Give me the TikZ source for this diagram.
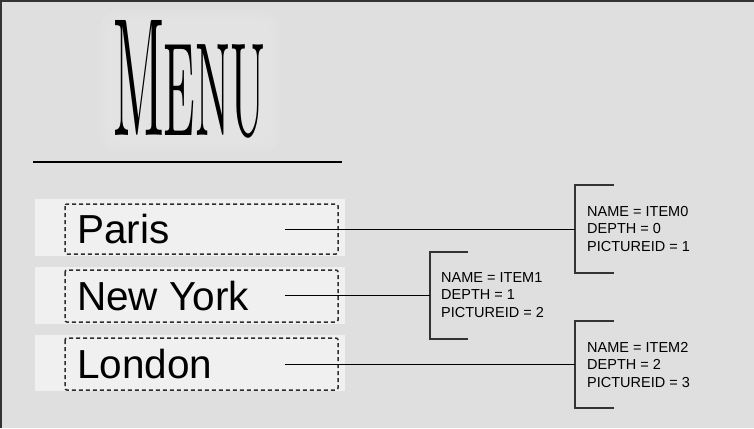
\documentclass[tikz,border=0pt]{standalone}
\usepackage{fontspec}
\setmainfont{Liberation Sans}
\usepackage{graphicx}
\usetikzlibrary{positioning}
\definecolor{panelgray}{HTML}{DFDFDF}
\definecolor{glowgray}{HTML}{E6E6E6}
\definecolor{bandgray}{HTML}{F0F0F0}
\definecolor{inkgray}{HTML}{333333}
\tikzset{
  band/.style={fill=bandgray, draw=none},
  dashbox/.style={draw=inkgray!90!black, line width=1.5pt, dash pattern=on 4pt off 3pt, rounded corners=2pt},
  cityname/.style={font=\fontsize{40.5}{42}\selectfont, anchor=base west, inner sep=0pt},
  props/.style={font=\fontsize{14.5}{17.5}\selectfont, align=left, anchor=base west, inner sep=0pt},
  bracketline/.style={draw=inkgray, line width=1.3pt},
  link/.style={draw=black, line width=1pt}
}
\begin{document}
\begin{tikzpicture}[x=1pt, y={(0pt,-1pt)}]
  % the panel, 754 x 428 px
  \fill[panelgray] (0,0) rectangle (754,428);
  \useasboundingbox (0,0) rectangle (754,428);
  \draw[inkgray, line width=2pt] (1,428) -- (1,1) -- (754,1);
  % the title (with its faint glow) and the rule below it
  \foreach \g in {0,4,8,12}
    \fill[glowgray, opacity=0.3, rounded corners=16pt] (100+\g,12+\g) rectangle (280-\g,152-\g);
  \node[anchor=south west, inner sep=0pt] (title) at (113,138)
    {\resizebox{152pt}{115pt}{\fontspec{Latin Modern Roman}M{\fontsize{7.9}{8}\selectfont ENU}}};
  \draw[black, line width=1.5pt] (33,162) -- (342,162);
  % the three menu rows
  \fill[band] (35,199) rectangle (345,256);
  \fill[band] (35,267) rectangle (345,324);
  \fill[band] (35,335) rectangle (345,391);
  \draw[dashbox] (65,204) rectangle (338,254);
  \draw[dashbox] (65,270) rectangle (338,322);
  \draw[dashbox] (65,338) rectangle (338,390);
  \node[cityname] (paris) at (77,243) {Paris};
  \node[cityname] (newyork) at (77,310) {New York};
  \node[cityname] (london) at (77,378) {London};
  \coordinate (paris-out) at (285,229);
  \coordinate (newyork-out) at (285,295);
  \coordinate (london-out) at (285,364);
  % the brackets with the item data
  \coordinate (item0) at (575,229);
  \coordinate (item1) at (430,295);
  \coordinate (item2) at (575,364);
  \draw[bracketline] (item0) ++(39,-44) -- ++(-39,0) -- ++(0,88) -- ++(39,0);
  \draw[bracketline] (item1) ++(38,-43) -- ++(-38,0) -- ++(0,87) -- ++(38,0);
  \draw[bracketline] (item2) ++(39,-43) -- ++(-39,0) -- ++(0,87) -- ++(39,0);
  % base west of a three-line node sits on its last line
  \node[props] (data0) at (587,251) {NAME = ITEM0\\DEPTH = 0\\PICTUREID = 1};
  \node[props] (data1) at (441,317) {NAME = ITEM1\\DEPTH = 1\\PICTUREID = 2};
  \node[props] (data2) at (587,387) {NAME = ITEM2\\DEPTH = 2\\PICTUREID = 3};
  % connectors
  \draw[link] (paris-out) -- (item0);
  \draw[link] (newyork-out) -- (item1);
  \draw[link] (london-out) -- (item2);
\end{tikzpicture}
\end{document}
